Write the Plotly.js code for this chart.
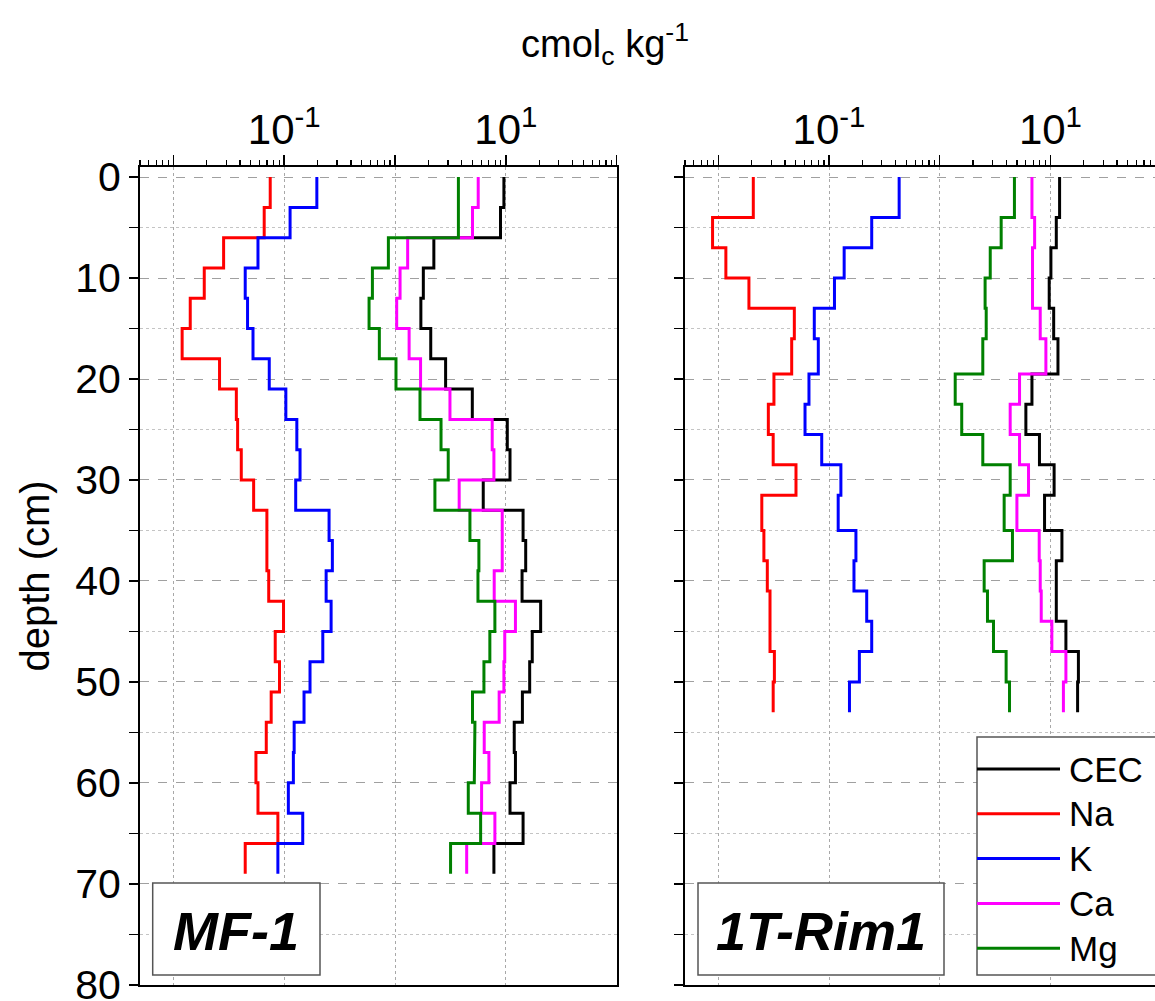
<!DOCTYPE html>
<html>
<head>
<meta charset="utf-8">
<script src="https://cdn.plot.ly/plotly-3.0.1.min.js"></script>
<style>
  html, body { margin: 0; padding: 0; background: #fff; }
  #chart { width: 1155px; height: 1001px; }
</style>
</head>
<body>
<div id="chart"></div>
<script>
// ---------- data ----------
const seriesNames = ['CEC', 'Na', 'K', 'Ca', 'Mg'];
const seriesColors = ['#000000', '#ff0000', '#0000ff', '#ff00ff', '#008000'];

// MF-1 profile: sampling interval boundaries (cm)
const depthMF = [0, 3, 6, 9, 12, 15, 18, 21, 24, 27, 30, 33, 36, 39, 42, 45, 48, 51, 54, 57, 60, 63, 66, 69];
const mfCEC = [9.6, 8.95, 2.24, 1.8, 1.71, 2.1, 2.86, 4.98, 10.3, 10.9, 6.25, 14.3, 15.1, 14.0, 20.6, 17.3, 16.4, 14.1, 11.9, 12.2, 10.9, 14.3, 7.8];
const mfNa  = [0.0748, 0.066, 0.0284, 0.019, 0.0142, 0.012, 0.0261, 0.037, 0.038, 0.041, 0.053, 0.0698, 0.0698, 0.0725, 0.0986, 0.083, 0.0907, 0.0763, 0.0689, 0.0556, 0.058, 0.0877, 0.0445];
const mfK   = [0.197, 0.113, 0.058, 0.0445, 0.0467, 0.0523, 0.0733, 0.1035, 0.13, 0.139, 0.127, 0.254, 0.272, 0.239, 0.265, 0.223, 0.171, 0.151, 0.123, 0.121, 0.109, 0.147, 0.0877];
const mfCa  = [5.63, 5.0, 1.3, 1.11, 1.035, 1.34, 1.7, 3.13, 7.53, 7.8, 3.79, 9.27, 9.27, 7.85, 12.2, 9.77, 9.6, 8.7, 6.38, 7.03, 6.04, 7.96, 4.43];
const mfMg  = [3.73, 3.73, 0.871, 0.625, 0.583, 0.722, 1.02, 1.68, 2.6, 3.02, 2.29, 4.74, 5.71, 5.6, 7.96, 7.17, 6.34, 5.0, 5.26, 5.19, 4.58, 5.92, 3.17];

// 1T-Rim1 profile
const depthRim = [0, 4, 7, 10, 13, 16, 19.5, 22.5, 25.5, 28.5, 31.5, 35, 38, 41, 44, 47, 50, 53];
const rimCEC = [12.1, 11.3, 10.1, 9.75, 10.7, 11.7, 6.81, 6.0, 7.96, 10.8, 8.85, 12.7, 11.3, 11.3, 13.8, 17.9, 17.6];
const rimNa  = [0.0207, 0.00887, 0.0117, 0.0189, 0.0486, 0.046, 0.0318, 0.0283, 0.0313, 0.0503, 0.0247, 0.0258, 0.0277, 0.0293, 0.0293, 0.0321, 0.0313];
const rimK   = [0.43, 0.243, 0.137, 0.112, 0.0736, 0.08, 0.0659, 0.0607, 0.0859, 0.128, 0.121, 0.175, 0.168, 0.219, 0.243, 0.188, 0.153];
const rimCa  = [6.81, 7.2, 6.89, 6.89, 8.09, 9.1, 5.26, 4.33, 5.26, 6.34, 4.98, 7.92, 8.09, 8.26, 10.3, 13.8, 13.1];
const rimMg  = [4.73, 3.59, 2.86, 2.57, 2.63, 2.45, 1.38, 1.58, 2.45, 4.33, 3.82, 4.54, 2.52, 2.7, 3.06, 3.98, 4.27];

const panelLabels = ['MF-1', '1T-Rim1'];
const majorTickVals = [0.01, 0.1, 1, 10, 100];
const majorTickText = ['', '10<sup>-1</sup>', '', '10<sup>1</sup>', ''];
const depthTicks = [0, 10, 20, 30, 40, 50, 60, 70, 80];
const depthMinorTicks = [5, 15, 25, 35, 45, 55, 65, 75];

// ---------- build ----------
const FONT = 'Liberation Sans, Arial, Helvetica, sans-serif';
const W = 1155, H = 1001;
const ML = 140, MR = 0, MT = 167, MB = 16;
const PW = W - ML - MR, PH = H - MT - MB;
const px2x = p => (p - ML) / PW;
const px2y = p => (H - MB - p) / PH;

function stepCoords(depths, vals) {
  const x = [], y = [];
  for (let i = 0; i < vals.length; i++) {
    x.push(vals[i], vals[i]);
    y.push(depths[i], depths[i + 1]);
  }
  return {x, y};
}

const minorVals = [];
[0.001, 0.01, 0.1, 1, 10, 100].forEach(d => {
  for (let k = 2; k <= 9; k++) minorVals.push(+(k * d).toPrecision(3));
});

const mfSeries = [mfCEC, mfNa, mfK, mfCa, mfMg];
const rimSeries = [rimCEC, rimNa, rimK, rimCa, rimMg];
const traces = [];
seriesNames.forEach((name, i) => {
  const a = stepCoords(depthMF, mfSeries[i]);
  traces.push({x: a.x, y: a.y, xaxis: 'x', yaxis: 'y', mode: 'lines', name: name,
    line: {color: seriesColors[i], width: 3}, showlegend: false});
  const b = stepCoords(depthRim, rimSeries[i]);
  traces.push({x: b.x, y: b.y, xaxis: 'x2', yaxis: 'y2', mode: 'lines', name: name,
    line: {color: seriesColors[i], width: 3}, showlegend: false});
});

const LOG0 = Math.log10(0.005);
function xAxis(domain, rangeEnd, anchor) {
  return {
    type: 'log', domain: domain, range: [LOG0, rangeEnd], anchor: anchor,
    side: 'top', tickmode: 'array', tickvals: majorTickVals, ticktext: majorTickText,
    ticks: 'outside', ticklen: 10, tickwidth: 1.5, tickcolor: '#000',
    showline: true, linewidth: 2, linecolor: '#000', mirror: true,
    showgrid: true, gridcolor: '#a8a8a8', griddash: 'dot', gridwidth: 1,
    minor: {tickmode: 'array', tickvals: minorVals, ticks: 'outside', ticklen: 5,
            tickwidth: 1.2, tickcolor: '#000', showgrid: false},
    tickfont: {family: FONT, size: 42, color: '#000'},
    ticklabeloverflow: 'allow', ticklabelstandoff: -6,
    zeroline: false, automargin: false, fixedrange: true
  };
}
function yAxis(anchor, showLabels, mirror) {
  return {
    domain: [0, 1], range: [80.02, -1], anchor: anchor,
    tickmode: 'array', tickvals: depthTicks, showticklabels: showLabels,
    ticks: 'outside', ticklen: 9, tickwidth: 1.5, tickcolor: '#000',
    showline: true, linewidth: 2, linecolor: '#000', mirror: mirror,
    showgrid: true, gridcolor: '#a0a0a0', griddash: 'dash', gridwidth: 1,
    minor: {tickmode: 'array', tickvals: depthMinorTicks, ticks: 'outside', ticklen: 9,
            tickwidth: 1.5, tickcolor: '#000', showgrid: true, gridcolor: '#c4c4c4',
            griddash: 'dot', gridwidth: 1},
    tickfont: {family: FONT, size: 41, color: '#000'},
    ticklabeloverflow: 'allow',
    zeroline: false, automargin: false, fixedrange: true
  };
}

const domL = [0, px2x(616.7)];
const domR = [px2x(685), 1];
const endR = LOG0 + (W - 685) / 110.7;
const xa = xAxis(domL, 2, 'y');
const xa2 = xAxis(domR, endR, 'y2');
const ya = yAxis('x', true, true);
ya.title = {text: 'depth (cm)', font: {family: FONT, size: 40, color: '#000'}};
const ya2 = yAxis('x2', false, false);

// custom legend
const shapes = [];
const annotations = [];
shapes.push({type: 'rect', xref: 'paper', yref: 'paper',
  x0: px2x(977), x1: px2x(1170), y0: px2y(975), y1: px2y(737),
  line: {color: '#555', width: 1.5}, fillcolor: '#fff', layer: 'above'});
seriesNames.forEach((name, i) => {
  const yy = 769 + i * 44.8;
  shapes.push({type: 'line', xref: 'paper', yref: 'paper',
    x0: px2x(977), x1: px2x(1060), y0: px2y(yy), y1: px2y(yy),
    line: {color: seriesColors[i], width: 3}, layer: 'above'});
  annotations.push({xref: 'paper', yref: 'paper', x: px2x(1067), y: px2y(yy),
    xanchor: 'left', yanchor: 'middle', text: name, showarrow: false,
    font: {family: FONT, size: 35, color: '#000'}});
});

// panel labels
const boxes = [[152.7, 320, 883, 975], [698, 944, 883, 975]];
panelLabels.forEach((lab, i) => {
  const b = boxes[i];
  shapes.push({type: 'rect', xref: 'paper', yref: 'paper',
    x0: px2x(b[0]), x1: px2x(b[1]), y0: px2y(b[3]), y1: px2y(b[2]),
    line: {color: '#555', width: 1.5}, fillcolor: '#fff', layer: 'above'});
  annotations.push({xref: 'paper', yref: 'paper', x: px2x((b[0] + b[1]) / 2), y: px2y((b[2] + b[3]) / 2 + 2),
    xanchor: 'center', yanchor: 'middle', text: '<b><i>' + lab + '</i></b>', showarrow: false,
    font: {family: FONT, size: 54, color: '#000'}});
});

const layout = {
  width: W, height: H,
  margin: {l: ML, r: MR, t: MT, b: MB, pad: 0},
  paper_bgcolor: '#fff', plot_bgcolor: '#fff',
  font: {family: FONT, color: '#000'},
  title: {text: 'cmol<sub>c</sub> kg<sup>-1</sup>', x: 605 / W, xanchor: 'center',
          y: 1 - 44 / H, yanchor: 'middle', font: {family: FONT, size: 38, color: '#000'}},
  xaxis: xa, yaxis: ya, xaxis2: xa2, yaxis2: ya2,
  shapes: shapes, annotations: annotations, showlegend: false
};

Plotly.newPlot('chart', traces, layout, {staticPlot: true, displayModeBar: false});
</script>
</body>
</html>
